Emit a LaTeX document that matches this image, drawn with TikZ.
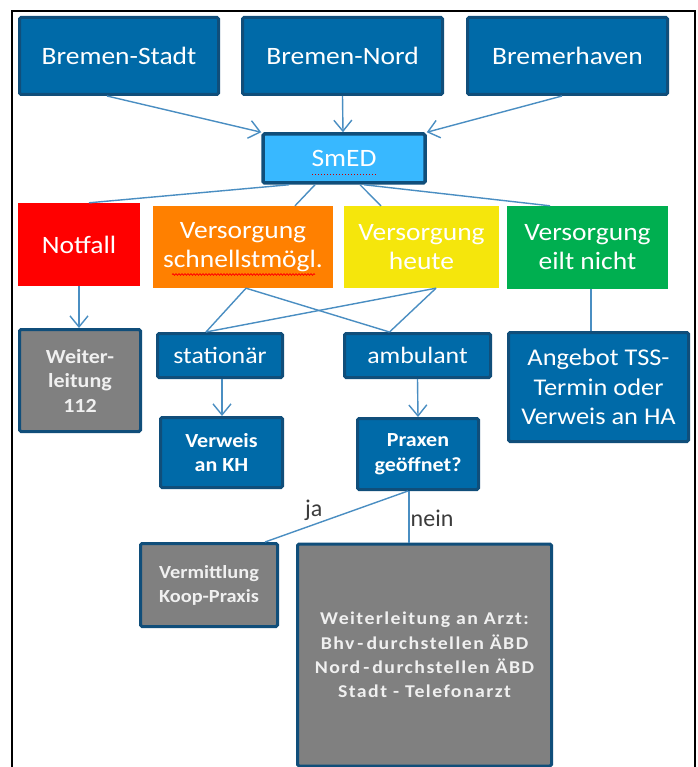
\documentclass[tikz,border=0pt]{standalone}
\usepackage{fontspec}
\setmainfont{Carlito}[FakeStretch=1.1]
\newfontfamily\spacedfont{Carlito}[FakeStretch=1.1,LetterSpace=8]
\newfontfamily\plainfont{Carlito}
\usetikzlibrary{arrows.meta,decorations.pathmorphing}
\definecolor{boxblue}{RGB}{0,106,168}
\definecolor{bordblue}{RGB}{16,78,122}
\definecolor{skyblue}{RGB}{56,184,255}
\definecolor{lineblue}{RGB}{74,142,194}
\definecolor{catred}{RGB}{255,0,0}
\definecolor{catorange}{RGB}{255,128,0}
\definecolor{catyellow}{RGB}{245,230,12}
\definecolor{catgreen}{RGB}{0,175,80}
\definecolor{boxgray}{RGB}{128,128,128}
\definecolor{labelgray}{RGB}{60,60,60}
\begin{document}
\begin{tikzpicture}[x=1pt,y=-1pt,
  base/.style={inner sep=0pt, align=center, text=white, rounded corners=1.5pt},
  bluebox/.style={base, fill=boxblue, draw=bordblue, line width=3pt},
  catbox/.style={base, rounded corners=0pt},
  graybox/.style={base, fill=boxgray, draw=bordblue, line width=3pt, text=white!94!black},
  conn/.style={draw=lineblue, line width=1.4pt},
  arr/.style={conn, -{Straight Barb[length=11pt,width=18pt,line width=1.4pt]}},
  lbl/.style={inner sep=0pt, text=labelgray, font=\plainfont\fontsize{24}{28}\selectfont},
  big/.style={font=\fontsize{25}{29}\selectfont},
  mid/.style={font=\fontsize{23.5}{28}\selectfont},
  small/.style={font=\bfseries\fontsize{20}{24.5}\selectfont}
]
\useasboundingbox (0,0) rectangle (697,767);
\fill[white] (0,0) rectangle (697,767);
% frame
\draw[line width=2pt] (12,767) -- (12,11) -- (695,11) -- (695,767);

% top row
\node[bluebox, big, minimum width=199pt, minimum height=77pt] (bs) at (119,56) {Bremen-Stadt};
\node[bluebox, big, minimum width=200pt, minimum height=77pt] (bn) at (342.5,56) {Bremen-Nord};
\node[bluebox, big, minimum width=200pt, minimum height=77pt] (bh) at (567.5,56) {Bremerhaven};

% SmED
\node[base, big, fill=skyblue, draw=bordblue, line width=3.5pt, minimum width=162pt, minimum height=49pt] (smed) at (344,158.5) {SmED};
\draw[red!80!black, line width=1pt, dotted] (312,174.5) -- (376,174.5);

% categories
\node[catbox, big, fill=catred, minimum width=122pt, minimum height=83pt] (notfall) at (79,244.5) {Notfall};
\node[catbox, big, fill=catorange, minimum width=180pt, minimum height=82pt] (orange) at (243,247) {Versorgung\\schnellstmögl.};
\node[catbox, big, fill=catyellow, minimum width=155pt, minimum height=82pt] (yellow) at (421.5,247) {Versorgung\\heute};
\node[catbox, big, fill=catgreen, minimum width=161pt, minimum height=83pt] (green) at (587.5,247.5) {Versorgung\\eilt nicht};
\draw[red, line width=0.8pt, decorate, decoration={snake, amplitude=0.8pt, segment length=3pt}] (172,274.5) -- (315,274.5);

% second level
\node[graybox, small, minimum width=121pt, minimum height=102pt] (w112) at (80,380.5) {Weiter-\\leitung\\112};
\node[bluebox, mid, minimum width=125pt, minimum height=44pt] (stat) at (220,355.5) {stationär};
\node[bluebox, mid, minimum width=146pt, minimum height=44pt] (amb) at (417.5,355.5) {ambulant};
\node[bluebox, font=\fontsize{24}{29.5}\selectfont, minimum width=180pt, minimum height=109pt] (tss) at (598.5,387) {Angebot TSS-\\Termin oder\\Verweis an HA};

% third level
\node[bluebox, small, minimum width=122pt, minimum height=70pt] (kh) at (221.5,452.5) {Verweis\\an KH};
\node[bluebox, small, minimum width=121pt, minimum height=71pt] (praxen) at (418,454) {Praxen\\geöffnet?};

% bottom
\node[graybox, font=\bfseries\fontsize{18.5}{24}\selectfont, minimum width=137pt, minimum height=83pt] (koop) at (209,585) {Vermittlung\\Koop-Praxis};
\node[graybox, font=\spacedfont\bfseries\fontsize{18}{24.3}\selectfont, minimum width=254pt, minimum height=222pt] (arzt) at (424.5,655) {Weiterleitung an Arzt:\\Bhv\,-\,durchstellen ÄBD\\Nord\,-\,durchstellen ÄBD\\Stadt - Telefonarzt};

% connectors: top row -> SmED
\draw[arr] ([xshift=-12pt]bs.south) -- (smed.north west);
\draw[arr] (bn.south) -- ([xshift=-1pt]smed.north);
\draw[arr] ([xshift=-5.5pt]bh.south) -- (smed.north east);

% SmED -> categories
\draw[conn] ([xshift=-55pt]smed.south) -- ([xshift=10pt]notfall.north);
\draw[conn] ([xshift=-29pt]smed.south) -- ([xshift=52pt]orange.north);
\draw[conn] ([xshift=16pt]smed.south) -- ([xshift=-40.5pt]yellow.north);
\draw[conn] ([xshift=20pt]smed.south) -- ([xshift=-37.5pt]green.north);

% categories -> second level
\draw[arr] (notfall.south) -- ([xshift=-1pt]w112.north);
\coordinate (o1) at ([xshift=3pt]orange.south);
\coordinate (y1) at ([xshift=14.5pt]yellow.south);
\coordinate (s1) at ([xshift=-14pt]stat.north);
\coordinate (a1) at ([xshift=-28pt]amb.north);
\draw[conn] (o1) -- (s1);
\draw[conn] (o1) -- (a1);
\draw[conn] (y1) -- (s1);
\draw[conn] (y1) -- (a1);
\draw[conn] ([xshift=3.5pt]green.south) -- ([xshift=-7.5pt]tss.north);

% second -> third
\draw[arr] ([xshift=2pt]stat.south) -- ([xshift=0.5pt]kh.north);
\draw[arr] (amb.south) -- (praxen.north);

% Praxen -> bottom
\draw[conn] ([xshift=-10pt]praxen.south) -- ([xshift=56pt]koop.north);
\draw[conn] ([xshift=-9pt]praxen.south) -- ([xshift=-15.5pt]arzt.north);
\node[lbl, anchor=base west] (ja) at (305,516.7) {ja};
\node[lbl, anchor=base west] (nein) at (410.5,526.7) {nein};
\end{tikzpicture}
\end{document}
